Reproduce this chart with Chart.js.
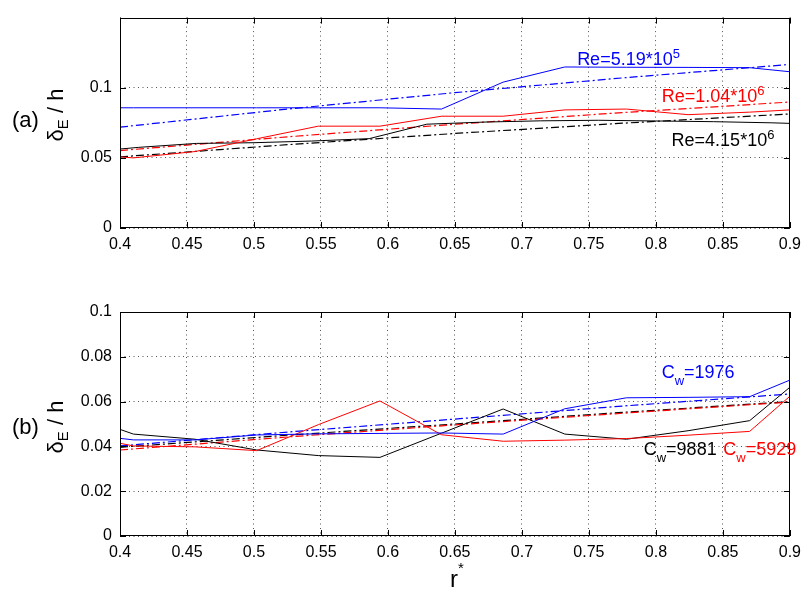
<!DOCTYPE html>
<html><head><meta charset="utf-8">
<script src="https://cdn.jsdelivr.net/npm/chart.js@4/dist/chart.umd.min.js"></script>
<style>
html,body{margin:0;padding:0;background:#fff;}
#wrap{position:relative;width:808px;height:594px;overflow:hidden;}
canvas{position:absolute;left:0;}
</style></head><body>
<div id="wrap">
<canvas id="ca" width="808" height="270" style="top:0px"></canvas>
<canvas id="cb" width="808" height="304" style="top:290px"></canvas>
</div>
<script>
// ---------- data ----------
const xTicks = [0.4,0.45,0.5,0.55,0.6,0.65,0.7,0.75,0.8,0.85,0.9];
const xTickLabels = ['0.4','0.45','0.5','0.55','0.6','0.65','0.7','0.75','0.8','0.85','0.9'];
const yTicksA = [0,0.05,0.1];
const yTickLabelsA = ['0','0.05','0.1'];
const yTicksB = [0,0.02,0.04,0.06,0.08,0.1];
const yTickLabelsB = ['0','0.02','0.04','0.06','0.08','0.1'];

const rGrid = [0.4,0.41,0.456,0.502,0.548,0.594,0.640,0.686,0.732,0.778,0.824,0.870,0.9];
const rGridBlackA = [0.4,0.414,0.457,0.5,0.543,0.586,0.629,0.671,0.714,0.757,0.8,0.843,0.886,0.9];
const rFit = [0.4,0.525,0.65,0.775,0.9];

// panel (a)
const re519 = [0.0857,0.0857,0.0857,0.0857,0.0857,0.0857,0.0848,0.1040,0.1148,0.1146,0.1145,0.1143,0.1114];
const re104 = [0.0507,0.0500,0.0545,0.0636,0.0726,0.0726,0.0797,0.0797,0.0842,0.0848,0.0808,0.0826,0.0842];
const re415 = [0.0563,0.0575,0.0603,0.0608,0.0620,0.0637,0.0740,0.0755,0.0764,0.0768,0.0763,0.0758,0.0750,0.0746];
const re519Fit = [0.0719,0.0848,0.0965,0.1070,0.1166];
const re104Fit = [0.0552,0.0650,0.0740,0.0823,0.0898];
const re415Fit = [0.0507,0.0594,0.0674,0.0747,0.0813];

// panel (b)
const cw1976 = [0.0436,0.0429,0.0429,0.0451,0.0456,0.0458,0.0460,0.0455,0.0568,0.0617,0.0619,0.0622,0.0696];
const cw5929 = [0.0414,0.0402,0.0398,0.0381,0.0497,0.0603,0.0452,0.0423,0.0428,0.0435,0.0450,0.0467,0.0624];
const cw9881 = [0.0476,0.0455,0.0432,0.0384,0.0359,0.0351,0.0459,0.0567,0.0455,0.0432,0.0470,0.0515,0.0664];
const cw1976Fit = [0.0402,0.0464,0.0522,0.0580,0.0634];
const cw5929Fit = [0.0384,0.0442,0.0496,0.0548,0.0598];
const cw9881Fit = [0.0396,0.0450,0.0500,0.0552,0.0600];

// annotation anchors (data coordinates: left edge, baseline)
const annA = [
  {x:0.7412, y:0.1161, color:'#0000ff', segs:[['Re=5.19*10',0],['5',-1]]},
  {x:0.8043, y:0.0898, color:'#ff0000', segs:[['Re=1.04*10',0],['6',-1]]},
  {x:0.8117, y:0.0585, color:'#000000', segs:[['Re=4.15*10',0],['6',-1]]}
];
const annB = [
  {x:0.8043, y:0.0705, color:'#0000ff', segs:[['C',0],['w',1],['=1976',0]]},
  {x:0.7909, y:0.0362, color:'#000000', segs:[['C',0],['w',1],['=9881',0]]},
  {x:0.8503, y:0.0362, color:'#ff0000', segs:[['C',0],['w',1],['=5929',0]]}
];

// ---------- helpers ----------
const FAM = '"Liberation Sans", Arial, Helvetica, sans-serif';
const pts = (xs, ys) => xs.map((x,i) => ({x:x, y:ys[i]}));
const DASHDOT = [8,3,2,3];
function solid(xs, ys, c){ return {data:pts(xs,ys), borderColor:c, borderWidth:1, pointRadius:0, fill:false, tension:0}; }
function dashdot(xs, ys, c){ return {data:pts(xs,ys), borderColor:c, borderWidth:1.2, borderDash:DASHDOT, pointRadius:0, fill:false, tension:0}; }

function drawSegs(ctx, segs, x, y, big, small, subDy, supDy){
  for (const [t, k] of segs){
    const s = k === 0 ? big : small;
    const dy = k === 0 ? 0 : (k > 0 ? subDy : supDy);
    ctx.font = s + 'px ' + FAM;
    ctx.fillText(t, x, y + dy);
    x += ctx.measureText(t).width;
  }
  return x;
}
function segsWidth(ctx, segs, big, small){
  let w = 0;
  for (const [t,k] of segs){ ctx.font = (k===0?big:small) + 'px ' + FAM; w += ctx.measureText(t).width; }
  return w;
}

const deco = {
  id:'deco',
  afterDraw(chart, args, o){
    const ctx = chart.ctx, a = chart.chartArea, xs = chart.scales.x, ys = chart.scales.y;
    ctx.save();
    ctx.setLineDash([]);
    ctx.strokeStyle = '#000'; ctx.lineWidth = 1;
    // frame
    ctx.strokeRect(Math.round(a.left)+0.5, Math.round(a.top)+0.5, Math.round(a.right-a.left)-1, Math.round(a.bottom-a.top)-1);
    // inward ticks
    ctx.beginPath();
    for (const v of o.xt){
      const p = Math.round(xs.getPixelForValue(v)) + 0.5;
      ctx.moveTo(p, a.bottom); ctx.lineTo(p, a.bottom - 6);
      ctx.moveTo(p, a.top); ctx.lineTo(p, a.top + 6);
    }
    for (const v of o.yt){
      const p = Math.round(ys.getPixelForValue(v)) + 0.5;
      ctx.moveTo(a.left, p); ctx.lineTo(a.left + 6, p);
      ctx.moveTo(a.right, p); ctx.lineTo(a.right - 6, p);
    }
    ctx.stroke();
    ctx.fillStyle = '#000';
    ctx.textBaseline = 'alphabetic'; ctx.textAlign = 'left';
    // panel tag
    ctx.font = '22px ' + FAM;
    ctx.fillText(o.tag, o.tagX, o.tagY);
    // y title (rotated), delta with subscript E
    const ySegs = [['\u03B4',0],['E',1],[' / h',0]];
    const W = segsWidth(ctx, ySegs, 22, 15);
    ctx.save();
    ctx.translate(o.ytX, o.ytY);
    ctx.rotate(-Math.PI/2);
    drawSegs(ctx, ySegs, -W/2, 0, 22, 15, 5, -8);
    ctx.restore();
    // annotations
    for (const an of o.ann){
      ctx.fillStyle = an.color;
      drawSegs(ctx, an.segs, xs.getPixelForValue(an.x), ys.getPixelForValue(an.y), 18, 13, 7, -7);
    }
    // x title
    if (o.xTitle){
      ctx.fillStyle = '#000';
      drawSegs(ctx, [['r',0],['*',-1]], 450, a.bottom + 51, 24, 15, 0, -14);
    }
    ctx.restore();
  }
};

function makeChart(id, datasets, ymax, yt, ytl, padTop, xAxisH, decoOpts){
  return new Chart(document.getElementById(id), {
    type:'line',
    data:{datasets:datasets},
    options:{
      responsive:false, animation:false, devicePixelRatio:1,
      layout:{padding:{top:padTop, right:14, left:0, bottom:0}},
      plugins:{legend:{display:false}, tooltip:{enabled:false}, deco:decoOpts},
      elements:{point:{radius:0}, line:{tension:0}},
      scales:{
        x:{
          type:'linear', min:0.4, max:0.9,
          afterBuildTicks: s => { s.ticks = xTicks.map(v => ({value:v})); },
          afterFit: s => { s.height = xAxisH; },
          ticks:{callback:(v,i) => xTickLabels[i], padding:7, color:'#000', font:{family:FAM, size:16}, maxRotation:0, autoSkip:false},
          grid:{color:'#555', lineWidth:1, drawTicks:false},
          border:{display:false, dash:[1,3.5]}
        },
        y:{
          type:'linear', min:0, max:ymax,
          afterBuildTicks: s => { s.ticks = yt.map(v => ({value:v})); },
          afterFit: s => { s.width = 120; },
          ticks:{callback:(v,i) => ytl[i], padding:8, color:'#000', font:{family:FAM, size:16}, autoSkip:false},
          grid:{color:'#555', lineWidth:1, drawTicks:false},
          border:{display:false, dash:[1,3.5]}
        }
      }
    },
    plugins:[deco]
  });
}

makeChart('ca', [
  solid(rGrid, re519, '#0000ff'),
  solid(rGrid, re104, '#ff0000'),
  solid(rGridBlackA, re415, '#000000'),
  dashdot(rFit, re519Fit, '#0000ff'),
  dashdot(rFit, re104Fit, '#ff0000'),
  dashdot(rFit, re415Fit, '#000000')
], 0.15, yTicksA, yTickLabelsA, 3, 42,
  {xt:xTicks, yt:yTicksA, tag:'(a)', tagX:12, tagY:127, ytX:63, ytY:115, ann:annA, xTitle:false});

makeChart('cb', [
  solid(rGrid, cw1976, '#0000ff'),
  solid(rGrid, cw5929, '#ff0000'),
  solid(rGrid, cw9881, '#000000'),
  dashdot(rFit, cw1976Fit, '#0000ff'),
  dashdot(rFit, cw5929Fit, '#ff0000'),
  dashdot(rFit, cw9881Fit, '#000000')
], 0.1, yTicksB, yTickLabelsB, 22, 58,
  {xt:xTicks, yt:yTicksB, tag:'(b)', tagX:12, tagY:143.5, ytX:63, ytY:137, ann:annB, xTitle:true});
</script>
</body></html>
